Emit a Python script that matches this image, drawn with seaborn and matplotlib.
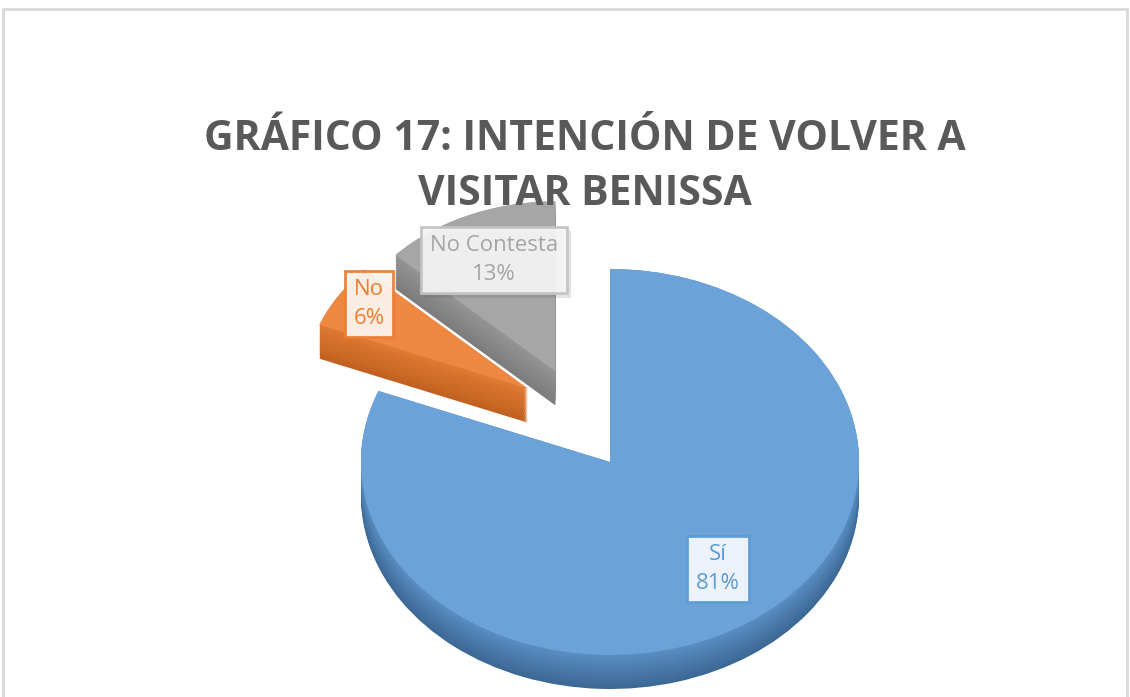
import numpy as np
import matplotlib
matplotlib.use("Agg")
import matplotlib.pyplot as plt
import matplotlib.patheffects as pe
import seaborn as sns
from matplotlib.patches import Rectangle

# data
categories = ["Sí", "No", "No Contesta"]
shares = [81, 6, 13]
title_text = "GRÁFICO 17: INTENCIÓN DE VOLVER A\nVISITAR BENISSA"

sns.set_theme(style="white")
plt.rcParams['font.family'] = ['Open Sans', 'DejaVu Sans']

top_colors = sns.color_palette(["#6ba3d8", "#ee8840", "#a6a6a6"])
side_dark = ["#3c6895", "#c2611f", "#7c7c7c"]
side_light = ["#5a8ec2", "#e07a34", "#959595"]
label_colors = ["#5b9bd5", "#ed7d31", "#a5a5a5"]
edge_colors = ["#5b9bd5", "#ed7d31", "#c4c4c4"]
label_faces = ["#f3f7fc", "#fdf3ec", "#f4f4f4"]

W, H = 1130, 697
fig = plt.figure(figsize=(W / 100, H / 100), dpi=100)
ax = fig.add_axes([0, 0, 1, 1])

# pie geometry in pixels (ellipse to fake the 3D tilt)
cx, cy = 610, 462
rx, ry = 249, 193
depth = 34 / ry
n_layers = 26

# where each slice sits (pull-out, in units of the radius) and its size
slice_offset = [(0.0, 0.0), (-0.33, 0.38), (-0.22, 0.47)]
slice_radius = [1.0, 0.9, 0.88]
draw_order = [2, 1, 0]


def mix(c1, c2, t):
    a = np.array(matplotlib.colors.to_rgb(c1))
    b = np.array(matplotlib.colors.to_rgb(c2))
    return tuple(a + (b - a) * t)


def only(i, color):
    return [color if j == i else "none" for j in range(len(shares))]


for i in draw_order:
    ox, oy = slice_offset[i]
    # side wall: stacked copies shifted downward
    for k in range(n_layers + 1):
        t = k / n_layers
        off = depth * (1 - t)
        ax.pie(shares, startangle=90, counterclock=False,
               colors=only(i, mix(side_dark[i], side_light[i], t)),
               center=(ox, oy - off), radius=slice_radius[i],
               wedgeprops=dict(linewidth=0))
    # top face
    ax.pie(shares, startangle=90, counterclock=False,
           colors=only(i, top_colors[i]),
           center=(ox, oy), radius=slice_radius[i],
           wedgeprops=dict(linewidth=0))

ax.set_aspect("auto")
ax.set_xlim(-cx / rx, (W - cx) / rx)
ax.set_ylim(-(H - cy) / ry, cy / ry)
ax.axis("off")


def fx(x):
    return x / W


def fy(y):
    return 1 - y / H


# data labels
label_pos = [(718, 569), (369, 304), (494, 260)]
for i, (lx, ly) in enumerate(label_pos):
    txt = f"{categories[i]}\n{shares[i]}%"
    t = fig.text(fx(lx), fy(ly), txt, ha="center", va="center", fontsize=16,
                 color=label_colors[i], linespacing=1.45,
                 bbox=dict(boxstyle="square,pad=0.4", facecolor=label_faces[i],
                           alpha=0.95, edgecolor=edge_colors[i], linewidth=2))
    if i == 2:
        # soft shadow behind the grey label
        t.get_bbox_patch().set_path_effects(
            [pe.SimplePatchShadow(offset=(3, -3), alpha=0.15), pe.Normal()])

# title
fig.text(fx(585), fy(167), title_text, ha="center", va="center",
         fontsize=29.5, fontweight="bold", color="#595959", linespacing=1.48,
         family=["Open Sans", "DejaVu Sans"])

# chart area border
fig.patches.append(Rectangle((fx(3), fy(702)), fx(1124), (702 - 9) / H,
                             transform=fig.transFigure, fill=False,
                             edgecolor="#d9d9d9", linewidth=2))

fig.savefig("out.png", dpi=100)
